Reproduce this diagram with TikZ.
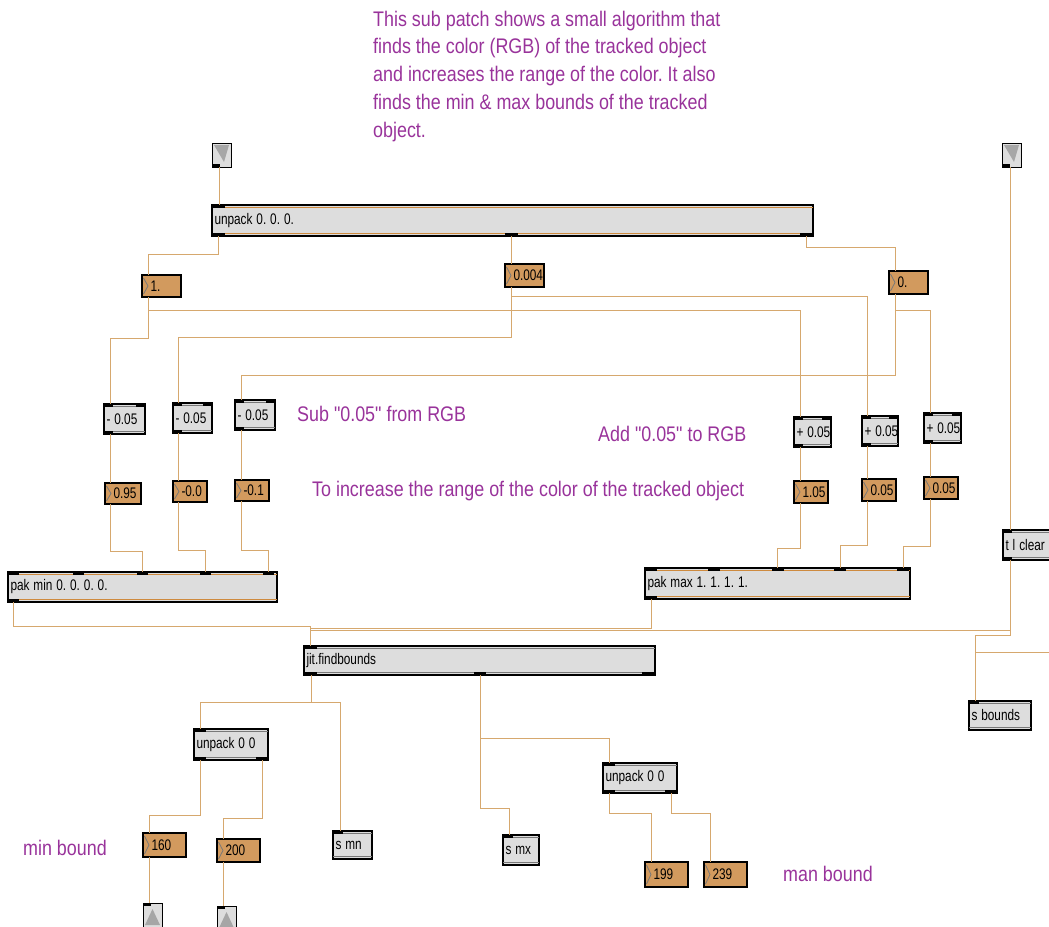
\documentclass[tikz,border=0pt]{standalone}
\usepackage{fontspec}
\setmainfont{Liberation Sans}[Ligatures=TeXOff]
\frenchspacing

\definecolor{wirecol}{RGB}{214,168,110}
\definecolor{notecol}{RGB}{153,51,155}
\definecolor{objfill}{RGB}{221,221,221}
\definecolor{numfill}{RGB}{210,154,94}
\definecolor{bandcol}{RGB}{206,138,62}
\definecolor{rulecol}{RGB}{120,120,120}

% text is drawn slightly tall and narrow
\newcommand\tall[1]{\scalebox{1}[1.18]{#1}}
\newcommand\btall[1]{\scalebox{1}[1.3]{#1}}
\newcommand\boxfont{\fontsize{11.8}{13}\selectfont}
\newcommand\notefont{\fontsize{17.9}{23.7}\selectfont}

\tikzset{
  mbox/.style={draw=black, line width=1.2pt, inner xsep=2.5pt, inner ysep=0pt,
    outer sep=0pt, anchor=north west, font=\boxfont, align=left},
  objbox/.style={mbox, fill=objfill},
  numbox/.style={mbox, fill=numfill},
  iobox/.style={draw=black, line width=1pt, fill=objfill, inner sep=0pt,
    outer sep=0pt, anchor=north west, minimum width=19pt, minimum height=24pt},
  wire/.style={draw=wirecol, line width=1pt},
  note/.style={text=notecol, font=\notefont, anchor=base west, inner sep=0pt},
}

% inlet / outlet blocks: node, offset from left edge, width
\newcommand\portin[3]{\fill[black] ([xshift=#2]#1.north west) rectangle ++(#3,3);}
\newcommand\portout[3]{\fill[black] ([xshift=#2]#1.south west) rectangle ++(#3,-3);}
% thin rules just inside the top and bottom edges
\newcommand\bands[2]{%
  \draw[#2, line width=0.9pt] ([yshift=-2.4pt]#1.north west) -- ([yshift=-2.4pt]#1.north east)
    ([yshift=2.4pt]#1.south west) -- ([yshift=2.4pt]#1.south east);}
% number box arrow
\newcommand\chev[1]{\draw[rulecol, line width=0.8pt]
  ([shift={(1.5pt,-3pt)}]#1.north west) -- ([xshift=6pt]#1.west) -- ([shift={(1.5pt,3pt)}]#1.south west);}
% inlet and outlet objects
\newcommand\downtri[1]{\fill[gray!70] ([shift={(2pt,-2pt)}]#1.north west) -- ([shift={(-2pt,-2pt)}]#1.north east)
  -- ([shift={(12pt,5pt)}]#1.south west) -- cycle;}
\newcommand\uptri[1]{\fill[gray!70] ([shift={(2pt,2pt)}]#1.south west) -- ([shift={(-2pt,2pt)}]#1.south east)
  -- ([shift={(9.5pt,-6pt)}]#1.north west) -- cycle;}

\begin{document}
\begin{tikzpicture}[x=1pt,y=-1pt]
\fill[white] (0,0) rectangle (1049,926);
\useasboundingbox (0,0) rectangle (1049,926);
\clip (0,0) rectangle (1049,926);

% ---------- comments ----------
\node[note] (intro) at (373,26) {\tall{\begin{tabular}[t]{@{}l@{}}
This sub patch shows a small algorithm that\\
finds the color (RGB) of the tracked object\\
and increases the range of the color. It also\\
finds the min \& max bounds of the tracked\\
object.\end{tabular}}};
\node[note] (subnote) at (297,421) {\tall{Sub "0.05" from RGB}};
\node[note] (addnote) at (598,441) {\tall{Add "0.05" to RGB}};
\node[note] (rangenote) at (312,496) {\tall{To increase the range of the color of the tracked object}};
\node[note] (minnote) at (23,855) {\tall{min bound}};
\node[note] (maxnote) at (783,881) {\tall{man bound}};

% ---------- inlets ----------
\node[iobox] (inA) at (212,143) {};
\node[iobox] (inB) at (1002,143) {};
\downtri{inA} \downtri{inB}
\portout{inA}{0}{8} \portout{inB}{0}{8}

% ---------- unpack ----------
\node[objbox, text width=596, minimum height=31] (unp) at (212,205) {\btall{unpack 0. 0. 0.}};
\bands{unp}{bandcol}
\portin{unp}{0}{13}
\portout{unp}{0}{13} \portout{unp}{293}{13} \portout{unp}{588}{13}

\node[numbox, text width=34, minimum height=22] (num1) at (142,275) {\btall{\hspace*{6pt}1.}};
\node[numbox, text width=34, minimum height=23] (num2) at (505,264) {\btall{\hspace*{6pt}0.004}};
\node[numbox, text width=34, minimum height=23] (num3) at (889,271) {\btall{\hspace*{6pt}0.}};
\chev{num1} \chev{num2} \chev{num3}

% ---------- subtract / add ----------
\node[objbox, text width=36, minimum height=30] (sub1) at (104,404) {\btall{- 0.05}};
\node[objbox, text width=34, minimum height=30] (sub2) at (173,403) {\btall{- 0.05}};
\node[objbox, text width=35, minimum height=30] (sub3) at (235,400) {\btall{- 0.05}};
\node[objbox, text width=32, minimum height=30] (add1) at (794,417) {\btall{+ 0.05}};
\node[objbox, text width=31, minimum height=30] (add2) at (862,416) {\btall{+ 0.05}};
\node[objbox, text width=32, minimum height=30] (add3) at (924,413) {\btall{+ 0.05}};
\foreach \b in {sub1,sub2,sub3,add1,add2,add3}{
  \bands{\b}{rulecol}
  \portin{\b}{0}{9}
  \fill[black] (\b.north east) rectangle ++(-9,3);
  \portout{\b}{0}{9}
}

\node[numbox, text width=31, minimum height=21] (n95) at (105,483) {\btall{\hspace*{6pt}0.95}};
\node[numbox, text width=29, minimum height=21] (n00) at (173,481) {\btall{\hspace*{6pt}-0.0}};
\node[numbox, text width=29, minimum height=21] (n01) at (235,480) {\btall{\hspace*{6pt}-0.1}};
\node[numbox, text width=29, minimum height=22] (n105) at (794,481) {\btall{\hspace*{6pt}1.05}};
\node[numbox, text width=29, minimum height=22] (n05b) at (862,479) {\btall{\hspace*{6pt}0.05}};
\node[numbox, text width=29, minimum height=22] (n05c) at (924,477) {\btall{\hspace*{6pt}0.05}};
\foreach \b in {n95,n00,n01,n105,n05b,n05c}{\chev{\b}}

% ---------- pak ----------
\node[objbox, text width=264, minimum height=30] (pakmin) at (8,572) {\btall{pak min 0. 0. 0. 0.}};
\node[objbox, text width=260, minimum height=31] (pakmax) at (645,568) {\btall{pak max 1. 1. 1. 1.}};
\bands{pakmin}{bandcol} \bands{pakmax}{bandcol}
\foreach \o in {0,65,129,192,255}{\portin{pakmin}{\o}{11}}
\foreach \o in {0,63,127,189,252}{\portin{pakmax}{\o}{12}}
\portout{pakmin}{0}{11} \portout{pakmax}{0}{12}

\node[objbox, text width=55, minimum height=30] (tclear) at (1003,530) {\btall{t l clear}};
\bands{tclear}{rulecol}
\portin{tclear}{0}{9} \portout{tclear}{0}{9}

% ---------- findbounds ----------
\node[objbox, text width=346, minimum height=29] (jfb) at (304,646) {\btall{jit.findbounds}};
\bands{jfb}{rulecol}
\portin{jfb}{0}{13}
\portout{jfb}{0}{13} \portout{jfb}{170}{12} \portout{jfb}{338}{13}

\node[objbox, text width=69, minimum height=31] (unpA) at (194,729) {\btall{unpack 0 0}};
\node[objbox, text width=69, minimum height=30] (unpB) at (603,763) {\btall{unpack 0 0}};
\foreach \b in {unpA,unpB}{
  \bands{\b}{rulecol}
  \portin{\b}{0}{12} \portout{\b}{0}{12}
  \fill[black] (\b.south east) rectangle ++(-12,-3);
}

\node[objbox, text width=34, minimum height=28] (smn) at (333,831) {\btall{s mn}};
\node[objbox, text width=31, minimum height=30] (smx) at (503,835) {\btall{s mx}};
\node[objbox, text width=57, minimum height=29] (sbounds) at (969,701) {\btall{s bounds}};
\foreach \b in {smn,smx,sbounds}{\bands{\b}{rulecol} \portin{\b}{0}{10}}

\node[numbox, text width=38, minimum height=24] (n160) at (143,833) {\btall{\hspace*{6pt}160}};
\node[numbox, text width=38, minimum height=23] (n200) at (217,839) {\btall{\hspace*{6pt}200}};
\node[numbox, text width=38, minimum height=25] (n199) at (645,862) {\btall{\hspace*{6pt}199}};
\node[numbox, text width=38, minimum height=25] (n239) at (704,862) {\btall{\hspace*{6pt}239}};
\foreach \b in {n160,n200,n199,n239}{\chev{\b}}

% ---------- outlets ----------
\node[iobox] (outA) at (143,903) {};
\node[iobox] (outB) at (217,906) {};
\uptri{outA} \uptri{outB}
\portin{outA}{0}{8} \portin{outB}{0}{8}

\coordinate (offright) at (1049,652);

% ---------- patch cords ----------
\draw[wire] ([xshift=7]inA.south west) -- ([xshift=7]unp.north west);
\draw[wire] ([xshift=6]unp.south west) -- ++(0,18) -| ([xshift=6]num1.north west);
\draw[wire] ([xshift=299]unp.south west) -- ([xshift=6]num2.north west);
\draw[wire] ([xshift=-7]unp.south east) -- ++(0,11) -| ([xshift=6]num3.north west);

\draw[wire] ([xshift=6]num1.south west) -- ++(0,41) -| ([xshift=6]sub1.north west);
\draw[wire] ([xshift=6]num1.south west) -- ++(0,13) -| ([xshift=6]add1.north west);
\draw[wire] ([xshift=6]num2.south west) -- ++(0,50) -| ([xshift=5]sub2.north west);
\draw[wire] ([xshift=6]num2.south west) -- ++(0,9) -| ([xshift=5]add2.north west);
\draw[wire] ([xshift=6]num3.south west) -- ++(0,81) -| ([xshift=6]sub3.north west);
\draw[wire] ([xshift=6]num3.south west) -- ++(0,16) -| ([xshift=6]add3.north west);

\draw[wire] ([xshift=6]sub1.south west) -- ([xshift=5]n95.north west);
\draw[wire] ([xshift=5]sub2.south west) -- ([xshift=5]n00.north west);
\draw[wire] ([xshift=6]sub3.south west) -- ([xshift=6]n01.north west);
\draw[wire] ([xshift=6]add1.south west) -- ([xshift=6]n105.north west);
\draw[wire] ([xshift=5]add2.south west) -- ([xshift=5]n05b.north west);
\draw[wire] ([xshift=6]add3.south west) -- ([xshift=6]n05c.north west);

\draw[wire] ([xshift=5]n95.south west) -- ++(0,47) -| ([xshift=134]pakmin.north west);
\draw[wire] ([xshift=5]n00.south west) -- ++(0,48) -| ([xshift=197]pakmin.north west);
\draw[wire] ([xshift=6]n01.south west) -- ++(0,49) -| ([xshift=260]pakmin.north west);
\draw[wire] ([xshift=6]n105.south west) -- ++(0,45) -| ([xshift=132]pakmax.north west);
\draw[wire] ([xshift=5]n05b.south west) -- ++(0,44) -| ([xshift=195]pakmax.north west);
\draw[wire] ([xshift=6]n05c.south west) -- ++(0,47) -| ([xshift=258]pakmax.north west);

\draw[wire] ([xshift=5]pakmin.south west) -- ++(0,24) -| ([xshift=6]jfb.north west);
\draw[wire] ([xshift=6]pakmax.south west) -- ++(0,29) -| ([xshift=6]jfb.north west);

\draw[wire] ([xshift=8]inB.south west) -- ([xshift=7]tclear.north west);
\draw[wire] ([xshift=7]tclear.south west) -- ++(0,70) -| ([xshift=6]jfb.north west);
\draw[wire] ([xshift=7]tclear.south west) -- ++(0,75) -| ([xshift=6]sbounds.north west);
\draw[wire] (offright) -| ([xshift=6]sbounds.north west);

\draw[wire] ([xshift=7]jfb.south west) -- ++(0,27) -| ([xshift=6]unpA.north west);
\draw[wire] ([xshift=7]jfb.south west) -- ++(0,27) -| ([xshift=7]smn.north west);
\draw[wire] ([xshift=176]jfb.south west) -- ++(0,63) -| ([xshift=6]unpB.north west);
\draw[wire] ([xshift=176]jfb.south west) -- ++(0,133) -| ([xshift=6]smx.north west);

\draw[wire] ([xshift=6]unpA.south west) -- ++(0,55) -| ([xshift=6]n160.north west);
\draw[wire] ([xshift=-6]unpA.south east) -- ++(0,58) -| ([xshift=6]n200.north west);
\draw[wire] ([xshift=6]unpB.south west) -- ++(0,20) -| ([xshift=6]n199.north west);
\draw[wire] ([xshift=-6]unpB.south east) -- ++(0,20) -| ([xshift=6]n239.north west);

\draw[wire] ([xshift=6]n160.south west) -- ([xshift=6]outA.north west);
\draw[wire] ([xshift=6]n200.south west) -- ([xshift=6]outB.north west);
\end{tikzpicture}
\end{document}
